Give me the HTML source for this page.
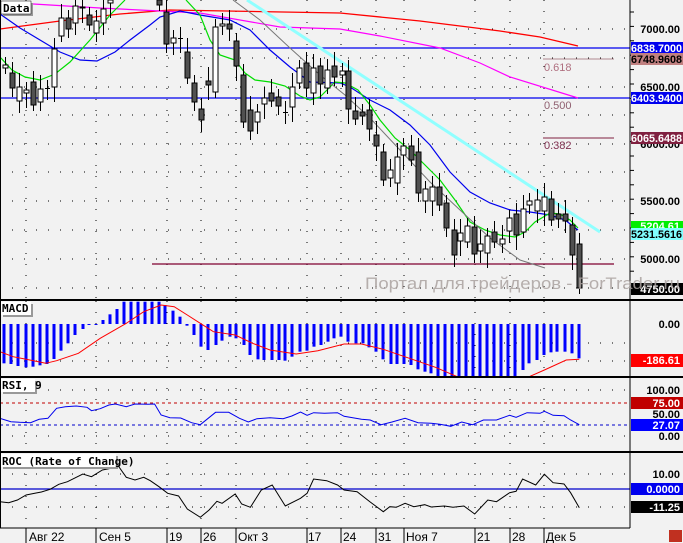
<!DOCTYPE html>
<html><head><meta charset="utf-8"><style>
html,body{margin:0;padding:0;background:#f2f2f2;}
svg{display:block;font-family:"Liberation Sans",sans-serif;}
.ax{font:bold 11px "Liberation Sans","DejaVu Sans",sans-serif;}
.lb{font:bold 11px "DejaVu Sans Mono","Liberation Mono",monospace;}
.dt{font:12px "Liberation Sans","DejaVu Sans",sans-serif;}
</style></head><body>
<svg id="s" width="683" height="543" viewBox="0 0 683 543" xmlns="http://www.w3.org/2000/svg">
<rect width="683" height="543" fill="#f2f2f2"/>
<g id="grid"></g>
<g id="plots"></g>
<line x1="0" y1="300" x2="683" y2="300" stroke="#000" stroke-width="2"/>
<line x1="0" y1="377" x2="683" y2="377" stroke="#000" stroke-width="2"/>
<line x1="0" y1="452" x2="683" y2="452" stroke="#000" stroke-width="2"/>
<line x1="0" y1="528" x2="630" y2="528" stroke="#000" stroke-width="1"/>
<line x1="630" y1="0" x2="630" y2="528" stroke="#000" stroke-width="1"/>
<line x1="0.5" y1="0" x2="0.5" y2="528" stroke="#000" stroke-width="1"/>
<line x1="543" y1="59" x2="614" y2="59" stroke="#b08890" stroke-width="1"/>
<line x1="543" y1="138" x2="614" y2="138" stroke="#802040" stroke-width="1"/>
<text x="544" y="71" font-size="11" fill="#b07080">0.618</text>
<text x="544" y="109" font-size="11" fill="#906070">0.500</text>
<text x="544" y="149" font-size="11" fill="#803050">0.382</text>
<g class="ax" text-anchor="end">
<text x="680" y="33">7000.00</text>
<text x="680" y="91">6500.00</text>
<text x="680" y="148">6000.00</text>
<text x="680" y="205">5500.00</text>
<text x="680" y="263">5000.00</text>
<rect x="631" y="42" width="52" height="12" fill="#0000ee"/><text x="682" y="52" fill="#fff" textLength="51" lengthAdjust="spacingAndGlyphs">6838.7000</text>
<rect x="631" y="53" width="52" height="12" fill="#c08080"/><text x="682" y="63" fill="#000" textLength="51" lengthAdjust="spacingAndGlyphs">6748.9608</text>
<rect x="631" y="92" width="52" height="12" fill="#0000ee"/><text x="682" y="102" fill="#fff" textLength="51" lengthAdjust="spacingAndGlyphs">6403.9400</text>
<rect x="631" y="132" width="52" height="12" fill="#802040"/><text x="682" y="142" fill="#fff" textLength="51" lengthAdjust="spacingAndGlyphs">6065.6488</text>
<rect x="631" y="221" width="52" height="11" fill="#00ee00"/><text x="680" y="230" fill="#fff">5204.61</text>
<rect x="631" y="228" width="52" height="12" fill="#80ffff"/><text x="682" y="238" fill="#000" textLength="51" lengthAdjust="spacingAndGlyphs">5231.5616</text>
<rect x="631" y="283" width="52" height="12" fill="#000"/><text x="680" y="293" fill="#fff">4750.00</text>
<text x="680" y="328">0.00</text>
<rect x="631" y="354" width="52" height="13" fill="#f00"/><text x="680" y="364" fill="#fff">-186.61</text>
<text x="680" y="394">100.00</text>
<rect x="631" y="397" width="52" height="12" fill="#c00000"/><text x="680" y="407" fill="#fff">75.00</text>
<text x="680" y="418">50.00</text>
<rect x="631" y="419" width="52" height="12" fill="#0000ff"/><text x="680" y="429" fill="#fff">27.07</text>
<text x="680" y="440">0.00</text>
<text x="680" y="478">10.00</text>
<rect x="631" y="483" width="52" height="12" fill="#0000ee"/><text x="680" y="493" fill="#fff">0.0000</text>
<rect x="631" y="501" width="52" height="12" fill="#000"/><text x="680" y="511" fill="#fff">-11.25</text>
</g>
<text x="365" y="289" font-size="17" fill="#aaa2a0" fill-opacity="0.85" font-family="Liberation Sans,sans-serif" textLength="315" lengthAdjust="spacingAndGlyphs">Портал для трейдеров - ForTrader.ru</text>
<g class="lb">
<rect x="3" y="3" width="30" height="13" fill="#999"/><rect x="1" y="1" width="30" height="13" fill="#fff" stroke="#000" stroke-width="0.5"/><text x="3" y="12">Data</text>
<rect x="3" y="304" width="30" height="13" fill="#999"/><rect x="1" y="302" width="30" height="13" fill="#fff"/><text x="2" y="312">MACD</text>
<rect x="3" y="381" width="34" height="13" fill="#999"/><rect x="1" y="379" width="34" height="13" fill="#fff"/><text x="2" y="389">RSI, 9</text>
<rect x="3" y="456" width="115" height="13" fill="#999"/><rect x="1" y="454" width="115" height="13" fill="#fff"/><text x="2" y="465">ROC (Rate of Change)</text>
</g>
<g class="dt">
<text x="29" y="541">Авг 22</text><text x="99" y="541">Сен 5</text><text x="169" y="541">19</text><text x="203" y="541">26</text>
<text x="238" y="541">Окт 3</text><text x="308" y="541">17</text><text x="343" y="541">24</text><text x="378" y="541">31</text>
<text x="406" y="541">Ноя 7</text><text x="477" y="541">21</text><text x="512" y="541">28</text><text x="546" y="541">Дек 5</text>
</g>
<rect x="669" y="530" width="13" height="12" fill="#c03020"/>
</svg>
<script>
var NS="http://www.w3.org/2000/svg",G=document.getElementById("grid"),P=document.getElementById("plots");
function el(p,t,a){var e=document.createElementNS(NS,t);for(var k in a)e.setAttribute(k,a[k]);p.appendChild(e);return e;}
function pl(p,pts,c,w,extra){var s=pts.map(function(q){return q[0]+","+q[1]}).join(" ");var a={points:s,fill:"none",stroke:c,"stroke-width":w||1};for(var k in extra)a[k]=extra[k];el(p,"polyline",a);}
var dx=[26,96,167,201,236,307,341,376,404,475,510,544];
dx.forEach(function(x){[[0,300],[301,377],[377,452],[452,528]].forEach(function(r){el(G,"line",{x1:x,y1:r[0],x2:x,y2:r[1],stroke:"#000","stroke-width":1,"stroke-dasharray":"1,10"});});
 el(G,"line",{x1:x,y1:528,x2:x,y2:543,stroke:"#000"});});
[29,58,87,115,144,172,201,230,259,288,343,361,390,436,474,507].forEach(function(y){el(G,"line",{x1:0,y1:y,x2:630,y2:y,stroke:"#000","stroke-dasharray":"1,11"});});
for(var y=12;y<300;y+=14.4)el(G,"line",{x1:630,y1:y,x2:634,y2:y,stroke:"#000"});
el(P,"line",{x1:0,y1:48,x2:630,y2:48,stroke:"#0000ee","stroke-width":1.3});
el(P,"line",{x1:0,y1:98,x2:630,y2:98,stroke:"#0000ee","stroke-width":1.3});
el(P,"line",{x1:152,y1:264,x2:614,y2:264,stroke:"#800030","stroke-width":1.3});
pl(P,[[0,29],[60,21],[120,14],[170,10],[340,13],[420,21],[500,31],[540,37],[578,46]],"#f00",1.3);
pl(P,[[0,2],[100,8],[200,13],[280,27],[340,29],[380,36],[440,48],[480,63],[510,77],[578,98]],"#f0f",1.2);
pl(P,[[0,14],[20,28],[40,40],[60,52],[80,60],[97,61],[115,52],[130,40],[150,25],[160,17],[180,11],[200,15],[230,20],[250,30],[270,50],[290,67],[310,82],[340,83],[350,87],[370,100],[390,110],[410,125],[430,145],[450,172],[470,192],[490,203],[510,210],[530,212],[550,215],[565,220],[578,230]],"#0000ee",1.2);
pl(P,[[0,57],[12,70],[25,77],[40,80],[55,74],[70,62],[90,40],[110,15],[125,0]],"#00dd00",1.2);
pl(P,[[186,0],[200,15],[210,40],[220,55],[235,60],[245,73],[255,80],[270,82],[285,86],[300,96],[310,100],[320,97],[335,82],[345,83],[358,90],[370,105],[380,120],[395,138],[410,150],[425,165],[440,180],[455,200],[470,222],[485,230],[500,235],[515,237],[525,232],[535,222],[550,213],[560,214],[570,220],[578,228]],"#00dd00",1.2);
pl(P,[[233,0],[260,20],[290,48],[320,75],[345,95],[370,118],[400,150],[430,182],[460,210],[490,238],[520,260],[545,268]],"#777",1);
pl(P,[[247,0],[600,232]],"#90ffff",3);
var C=[[5,65,68,1],[12,73,88,0],[19,87,101,1],[26,90,93,1],[33,82,105,0],[40,89,102,1],[47,88,88,1],[54,49,87,1],[61,18,36,1],[68,18,29,0],[75,6,23,1],[82,7,8,0],[89,15,25,0],[96,21,33,1],[103,9,23,1],[110,0,3,1],[159,0,5,0],[166,12,44,0],[173,38,43,1],[180,38,38,1],[187,52,78,0],[194,83,102,0],[201,109,120,0],[208,81,85,0],[215,27,92,1],[222,24,26,1],[229,24,29,0],[236,41,66,0],[243,75,122,0],[250,110,131,0],[257,112,122,1],[264,98,104,1],[271,93,101,0],[278,97,106,0],[285,112,112,1],[292,87,107,1],[299,68,83,1],[306,63,88,0],[313,68,93,1],[320,66,84,0],[327,70,88,1],[334,66,77,0],[342,71,75,1],[348,71,109,0],[355,111,119,0],[362,112,116,0],[369,110,129,0],[376,135,146,0],[383,152,180,0],[390,170,178,1],[397,157,183,1],[403,146,155,1],[411,146,160,0],[418,152,193,0],[425,189,201,1],[432,187,201,1],[439,187,205,0],[446,203,228,0],[454,230,255,0],[460,233,241,1],[467,226,242,1],[474,227,254,0],[480,244,251,1],[487,236,253,1],[494,232,242,0],[502,239,244,1],[509,218,231,1],[516,214,235,0],[523,209,232,1],[529,201,205,1],[537,200,211,1],[544,197,211,1],[551,199,220,0],[558,214,219,0],[565,214,221,0],[572,225,255,0],[579,244,288,0]];
C.forEach(function(c,i){var x=c[0],t=c[1],b=c[2],h=Math.max(0,t-8-(i%3)*3),l=b+6+(i%4)*3;
 el(P,"line",{x1:x+0.5,y1:h,x2:x+0.5,y2:l,stroke:"#000"});
 if(b-t<1){el(P,"line",{x1:x-2,y1:t+0.5,x2:x+3,y2:t+0.5,stroke:"#000"});}
 else el(P,"rect",{x:x-2,y:t,width:5,height:b-t,fill:c[3]?"#fff":"#505050",stroke:"#000","stroke-width":1});});
var H=[[4,220],[11,222],[18,228],[26,232],[33,230],[40,226],[47,222],[54,207],[61,182],[68,160],[75,135],[83,117],[89,104],[96,104],[103,90],[110,73],[117,57],[124,35],[131,35],[138,35],[145,35],[152,35],[159,35],[165,45],[173,62],[180,80],[187,107],[194,135],[201,170],[208,180],[216,165],[222,152],[230,140],[236,145],[244,165],[250,195],[258,208],[264,210],[272,210],[279,210],[285,212],[292,200],[300,185],[307,182],[314,170],[321,165],[328,155],[334,145],[341,140],[348,155],[356,160],[363,160],[369,172],[376,185],[383,208],[391,222],[397,222],[404,222],[411,225],[418,238],[425,245],[431,250],[438,260],[445,260],[452,260],[459,260],[466,260],[473,260],[480,260],[487,260],[494,260],[501,260],[508,260],[515,260],[523,240],[529,220],[537,210],[544,195],[551,187],[557,185],[565,185],[572,190],[579,205]];
H.forEach(function(h){var y=290+h[1]/3,z=324;el(P,"rect",{x:h[0]-1.5,y:Math.min(y,z),width:3,height:Math.max(1,Math.abs(y-z)),fill:"#0000ff"});});
function cv(a){return a.map(function(q){return [(q[0]/2.296).toFixed(1),(290+q[1]/3).toFixed(1)]});}
pl(P,cv([[0,185],[30,200],[60,208],[105,220],[130,212],[180,190],[230,145],[290,100],[330,65],[370,45],[400,50],[430,75],[460,100],[490,125],[540,135],[580,160],[620,180],[680,192],[730,182],[790,162],[830,162],[880,178],[940,205],[1000,232],[1050,260]]),"#f00",1);
pl(P,cv([[1215,260],[1250,240],[1300,210],[1330,208]]),"#f00",1);
el(P,"line",{x1:0,y1:403,x2:630,y2:403,stroke:"#c00000","stroke-dasharray":"3,3"});
el(P,"line",{x1:0,y1:425,x2:630,y2:425,stroke:"#0000cc","stroke-dasharray":"3,3"});
pl(P,cv([[0,385],[25,395],[45,397],[70,398],[90,388],[110,385],[130,355],[150,350],[175,348],[200,352],[210,362],[230,356],[250,345],[265,342],[290,350],[310,342],[340,343],[355,342],[370,375],[390,383],[415,384],[440,398],[460,404],[495,367],[525,367],[550,385],[570,396],[590,386],[620,383],[650,386],[670,378],[690,366],[705,376],[720,368],[745,370],[775,368],[790,379],[830,388],[850,390],[875,404],[900,396],[930,385],[960,398],[990,400],[1010,403],[1035,409],[1060,396],[1085,404],[1110,390],[1140,390],[1170,376],[1185,382],[1210,368],[1240,370],[1250,364],[1270,376],[1295,377],[1310,390],[1330,404]]),"#0000ee",1);
el(P,"line",{x1:0,y1:489,x2:630,y2:489,stroke:"#0000cc","stroke-width":1.2});
pl(P,cv([[0,635],[20,638],[40,630],[60,615],[80,610],[95,606],[115,598],[135,583],[155,575],[190,552],[210,560],[235,540],[255,535],[270,525],[290,562],[310,570],[330,562],[345,572],[365,590],[385,610],[410,618],[430,657],[460,682],[480,660],[498,634],[510,640],[540,612],[555,642],[575,652],[600,600],[625,585],[655,648],[690,625],[705,610],[720,567],[750,572],[775,585],[790,600],[820,605],[850,636],[880,665],[895,650],[910,652],[930,640],[950,650],[975,644],[990,651],[1020,648],[1040,652],[1065,648],[1090,672],[1120,630],[1140,635],[1170,608],[1185,604],[1200,567],[1230,585],[1250,553],[1270,578],[1295,582],[1310,608],[1330,653]]),"#000",1);
</script>
</body></html>
